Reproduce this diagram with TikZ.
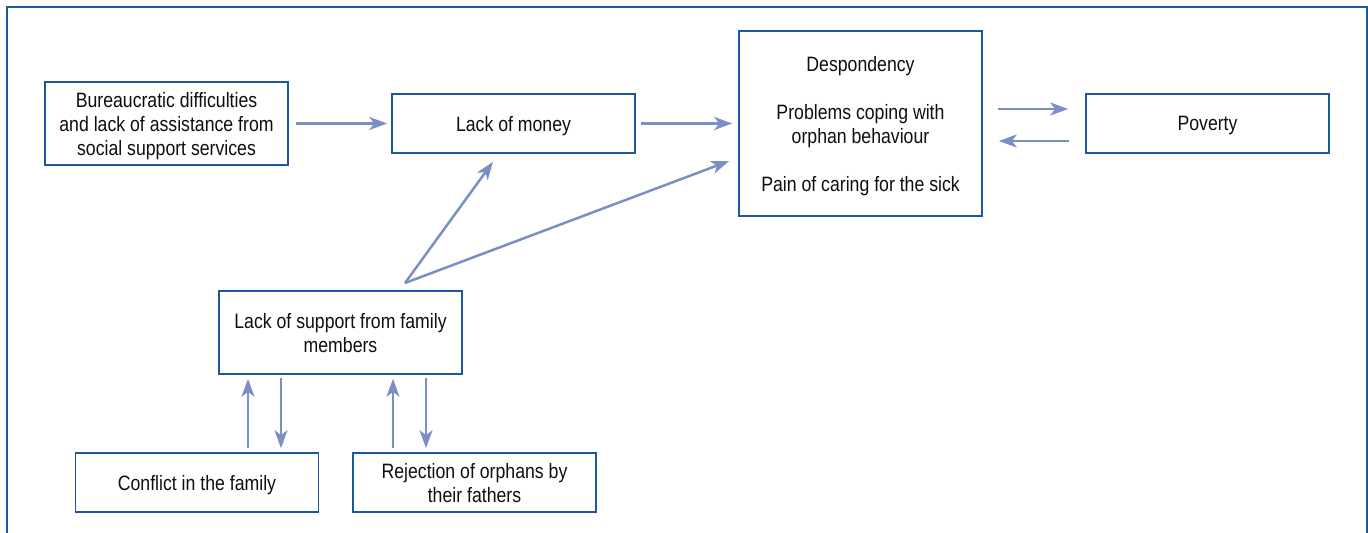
\documentclass[tikz,border=0pt]{standalone}
\usepackage{fontspec}
\setmainfont[FakeStretch=0.85]{Liberation Sans}
\definecolor{boxblue}{RGB}{28, 88, 160}
\definecolor{arrowblue}{RGB}{122, 143, 196}
\definecolor{textgrey}{RGB}{15, 15, 15}
\usetikzlibrary{arrows.meta, calc}

\begin{document}
\begin{tikzpicture}[x=0.5pt, y=-0.5pt]
    % Styles
    \tikzstyle{factor}=[draw=boxblue, line width=0.8pt, fill=white, align=center, text=textgrey,
        minimum width=121.5pt, minimum height=29.5pt, inner sep=2pt, text depth=-1.8pt,
        font=\fontsize{10.4}{12}\selectfont]
    \tikzstyle{arr}=[draw=arrowblue, line width=1.25pt, -{Stealth[length=9pt, width=6.5pt, inset=2.5pt]}]

    \useasboundingbox (0,0) rectangle (1368,533);
    \begin{scope}
        \clip (0,0) rectangle (1368,533);
        \draw[boxblue, line width=0.7pt] (7,7) rectangle (1367,560);
    \end{scope}

    % Top row
    \node[factor, minimum height=41.5pt] (bureau) at (166.5,123.5) {Bureaucratic difficulties\\and lack of assistance from\\social support services};
    \node[factor] (money) at (513.5,123.5) {Lack of money};
    \node[factor, minimum height=92.5pt] (desp) at (860.5,123.5) {Despondency\\[12pt]Problems coping with\\orphan behaviour\\[12pt]Pain of caring for the sick};
    \node[factor] (poverty) at (1207.5,123.5) {Poverty};

    % Family
    \node[factor, minimum height=41.5pt] (support) at (340.5,332.5) {Lack of support from family\\members};
    \node[factor] (conflict) at (197,482.5) {Conflict in the family};
    \node[factor] (reject) at (474.5,482.5) {Rejection of orphans by\\their fathers};

    % Arrows
    \draw[arr, shorten <=3.5pt, shorten >=2pt] (bureau) -- (money);
    \draw[arr, shorten <=2.5pt, shorten >=3pt] (money) -- (desp);
    \draw[arr] ($(desp.east)+(15,-14.5)$) -- ($(poverty.west)+(-17,-14.5)$);
    \draw[arr] ($(poverty.west)+(-16,17.5)$) -- ($(desp.east)+(16,17.5)$);

    \coordinate (fork) at (405,283);
    \draw[arr] (fork) -- ($(money.south)+(-20.5,8)$);
    \draw[arr] (fork) -- ($(desp.west)+(-9,37.5)$);

    \draw[arr] ($(conflict.north)+(51,-4)$) -- ($(support.south)+(-92.5,4)$);
    \draw[arr] ($(support.south)+(-59.5,3)$) -- ($(conflict.north)+(84,-4)$);
    \draw[arr] ($(reject.north)+(-81.5,-4)$) -- ($(support.south)+(52.5,4)$);
    \draw[arr] ($(support.south)+(85.5,3)$) -- ($(reject.north)+(-48.5,-4)$);
\end{tikzpicture}
\end{document}
